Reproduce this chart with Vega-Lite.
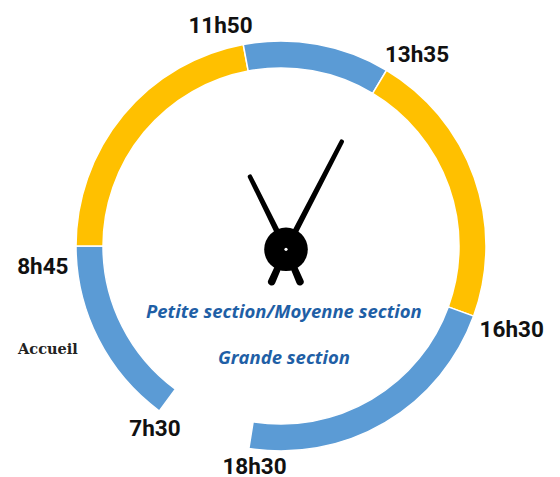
{
  "$schema": "https://vega.github.io/schema/vega-lite/v6.json",
  "width": 560,
  "height": 477,
  "autosize": {"type": "none"},
  "padding": 0,
  "background": "white",
  "config": {"view": {"stroke": null}},
  "datasets": {
    "segments": [
      {"periode": "Accueil", "start": 7.5, "end": 8.75, "kind": "periscolaire"},
      {"periode": "Matin", "start": 8.75, "end": 11.8333, "kind": "classe"},
      {"periode": "Midi", "start": 11.8333, "end": 13.5833, "kind": "periscolaire"},
      {"periode": "Après-midi", "start": 13.5833, "end": 16.5, "kind": "classe"},
      {"periode": "Soir", "start": 16.5, "end": 18.5, "kind": "periscolaire"}
    ],
    "hands": [
      {"hand": "minute", "k": 0, "pt": "tail", "x": -9.3, "y": -35.7},
      {"hand": "minute", "k": 1, "pt": "hub", "x": 5, "y": -3.3},
      {"hand": "minute", "k": 2, "pt": "tip", "x": 60.7, "y": 104.3},
      {"hand": "hour", "k": 0, "pt": "tail", "x": 19, "y": -35.7},
      {"hand": "hour", "k": 1, "pt": "hub", "x": 5, "y": -3.3},
      {"hand": "hour", "k": 2, "pt": "tip", "x": -31, "y": 69.3}
    ],
    "hub": [{"x": 5, "y": -3.3}],
    "times": [
      {"label": "11h50", "x": -60.5, "y": 212.7},
      {"label": "13h35", "x": 136, "y": 184.3},
      {"label": "8h45", "x": -238.2, "y": -27.5},
      {"label": "16h30", "x": 230.7, "y": -91.3},
      {"label": "7h30", "x": -126, "y": -190.3},
      {"label": "18h30", "x": -26.5, "y": -227.5}
    ],
    "notes": [{"label": "Accueil", "x": -233.1, "y": -108.3}],
    "captions": [
      {"label": "Petite section/Moyenne section", "x": 2.9, "y": -71.5},
      {"label": "Grande section", "x": 3, "y": -117.5}
    ]
  },
  "layer": [
    {
      "data": {"name": "segments"},
      "mark": {"type": "arc", "radius": 205, "radius2": 178, "stroke": "white", "strokeWidth": 1.5},
      "encoding": {
        "x": {"datum": 0, "type": "quantitative", "scale": {"domain": [-281, 279], "nice": false, "zero": false}, "axis": null},
        "y": {"datum": 0, "type": "quantitative", "scale": {"domain": [-231, 246], "nice": false, "zero": false}, "axis": null},
        "theta": {
          "field": "start",
          "type": "quantitative",
          "stack": null,
          "scale": {
            "type": "linear",
            "domain": [7.5, 8.75, 11.8333, 13.5833, 16.5, 18.5],
            "range": [3.777, 4.712, 6.098, 6.824, 8.203, 9.582]
          }
        },
        "theta2": {"field": "end"},
        "color": {
          "field": "kind",
          "type": "nominal",
          "scale": {"domain": ["periscolaire", "classe"], "range": ["#5B9BD5", "#FFC000"]},
          "legend": null
        }
      }
    },
    {
      "data": {"name": "hands"},
      "mark": {"type": "trail", "color": "black"},
      "encoding": {
        "x": {"field": "x", "type": "quantitative"},
        "y": {"field": "y", "type": "quantitative"},
        "detail": {"field": "hand", "type": "nominal"},
        "order": {"field": "k", "type": "quantitative"},
        "size": {
          "field": "pt",
          "type": "nominal",
          "scale": {"domain": ["tail", "hub", "tip"], "range": [7.5, 4.5, 1.5]},
          "legend": null
        }
      }
    },
    {
      "data": {"name": "hub"},
      "mark": {"type": "point", "shape": "circle", "filled": true, "color": "black", "size": 1900, "opacity": 1},
      "encoding": {
        "x": {"field": "x", "type": "quantitative"},
        "y": {"field": "y", "type": "quantitative"}
      }
    },
    {
      "data": {"name": "hub"},
      "mark": {"type": "point", "shape": "circle", "filled": true, "color": "white", "size": 10, "opacity": 1},
      "encoding": {
        "x": {"field": "x", "type": "quantitative"},
        "y": {"field": "y", "type": "quantitative"}
      }
    },
    {
      "data": {"name": "times"},
      "mark": {"type": "text", "font": "Roboto", "fontWeight": "bold", "fontSize": 22.5, "color": "#111111", "align": "center", "baseline": "alphabetic"},
      "encoding": {
        "x": {"field": "x", "type": "quantitative"},
        "y": {"field": "y", "type": "quantitative"},
        "text": {"field": "label"}
      }
    },
    {
      "data": {"name": "notes"},
      "mark": {"type": "text", "font": "DejaVu Serif, serif", "fontWeight": "bold", "fontSize": 14.5, "color": "#222222", "align": "center", "baseline": "alphabetic"},
      "encoding": {
        "x": {"field": "x", "type": "quantitative"},
        "y": {"field": "y", "type": "quantitative"},
        "text": {"field": "label"}
      }
    },
    {
      "data": {"name": "captions"},
      "mark": {"type": "text", "font": "Open Sans, sans-serif", "fontWeight": "bold", "fontStyle": "italic", "fontSize": 18.5, "color": "#1F5FA6", "align": "center", "baseline": "alphabetic"},
      "encoding": {
        "x": {"field": "x", "type": "quantitative"},
        "y": {"field": "y", "type": "quantitative"},
        "text": {"field": "label"}
      }
    }
  ]
}
